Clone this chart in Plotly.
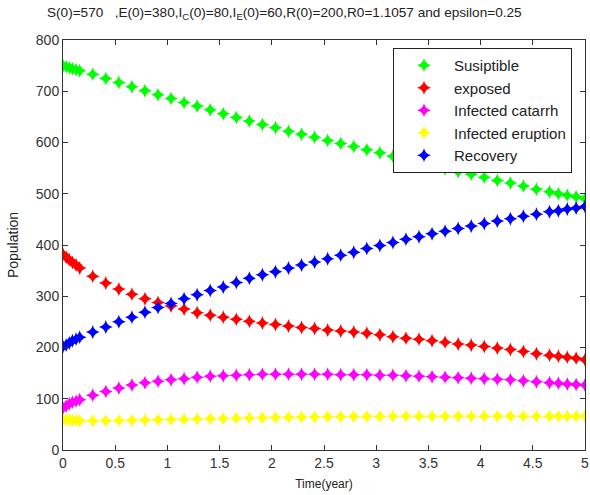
import plotly.graph_objects as go

time = [0, 0.03, 0.06, 0.09, 0.125, 0.16, 0.285, 0.41, 0.535, 0.66, 0.785, 0.91,
        1.035, 1.16, 1.285, 1.41, 1.535, 1.66, 1.785, 1.91, 2.035, 2.16, 2.285,
        2.41, 2.535, 2.66, 2.785, 2.91, 3.035, 3.16, 3.285, 3.41, 3.535, 3.66,
        3.785, 3.91, 4.035, 4.16, 4.285, 4.41, 4.535, 4.66, 4.745, 4.83, 4.915, 5.0]

susceptible = [750, 748, 746, 744, 742, 740, 733, 725, 717, 709, 701, 693,
               686, 678, 671, 664, 656, 649, 642, 635, 629, 622, 616,
               610, 604, 598, 592, 586, 580, 573, 566, 560, 555, 549,
               543, 538, 532, 526, 521, 515, 509, 504, 500, 497, 494, 490]

exposed = [382, 376, 371, 366, 361, 355, 339, 326, 314, 304, 295, 288,
           281, 275, 268, 263, 259, 255, 251, 248, 245, 242, 239,
           237, 234, 232, 230, 228, 225, 221, 218, 216, 213, 210,
           207, 205, 202, 199, 196, 192, 188, 185, 183, 181, 179, 176]

infected_catarrh = [82, 86, 90, 93, 95, 98, 107, 114, 121, 127, 131, 134,
                    137, 139, 142, 144, 145, 146, 147, 148, 148, 148, 148,
                    148, 148, 147, 147, 147, 146, 146, 145, 144, 143, 142,
                    141, 140, 139, 138, 137, 135, 133, 131, 130, 129, 128, 127]

infected_eruption = [60, 59, 58.5, 58, 57.5, 57, 57, 57, 57.5, 58, 58.5, 59,
                     59.5, 60, 60.5, 61, 61.5, 62, 62.5, 63, 63.5, 64, 64.5,
                     64.5, 65, 65, 65.5, 65.5, 65.5, 66, 66, 66, 66, 66,
                     66, 66, 66, 66, 66, 66, 66, 66, 66, 66, 66, 66]

recovery = [202, 205, 209, 213, 216, 220, 230, 240, 250, 259, 269, 278,
            286, 295, 303, 311, 318, 327, 335, 342, 348, 355, 361,
            367, 373, 380, 386, 393, 399, 405, 411, 416, 422, 427,
            432, 437, 442, 447, 451, 456, 460, 465, 467, 470, 472, 475]

series_names = ["Susiptible", "exposed", "Infected catarrh", "Infected eruption", "Recovery"]
series_values = [susceptible, exposed, infected_catarrh, infected_eruption, recovery]
series_colors = ["#00ff00", "#ff0000", "#ff00ff", "#ffff00", "#0000ff"]

x_ticks = [0, 0.5, 1, 1.5, 2, 2.5, 3, 3.5, 4, 4.5, 5]
y_ticks = [0, 100, 200, 300, 400, 500, 600, 700, 800]

fig = go.Figure()
for name, vals, col in zip(series_names, series_values, series_colors):
    fig.add_trace(go.Scatter(
        x=time, y=vals, mode="markers", name=name,
        marker=dict(symbol="star-diamond", size=10, color=col, line=dict(width=0)),
    ))

font = "Liberation Sans, Arial, sans-serif"
axis_common = dict(
    showgrid=False, zeroline=False, showline=True, linecolor="#333333", linewidth=1,
    mirror="ticks", ticks="inside", ticklen=5, tickcolor="#333333",
    tickfont=dict(family=font, size=14, color="#333333"),
    automargin=False,
)

W, H = 590, 495
L, R, T, B = 63, 5, 40, 45
PW, PH = W - L - R, H - T - B

fig.update_layout(
    width=W, height=H,
    margin=dict(l=L, r=R, t=T, b=B),
    paper_bgcolor="white", plot_bgcolor="white",
    showlegend=True,
    legend=dict(
        x=(393 - L) / PW, y=(H - B - 48) / PH, xanchor="left", yanchor="top",
        bordercolor="#222222", borderwidth=1, bgcolor="white",
        font=dict(family=font, size=15, color="#222222"),
        itemwidth=50,
    ),
    xaxis=dict(range=[0, 5], tickvals=x_ticks, ticktext=[str(v) for v in x_ticks],
               title=dict(text="Time(year)", font=dict(family=font, size=12, color="#222222"), standoff=9),
               **axis_common),
    yaxis=dict(range=[0, 800], tickvals=y_ticks,
               title=dict(text="Population", font=dict(family=font, size=14, color="#222222"), standoff=13),
               **axis_common),
    annotations=[dict(
        text="S(0)=570   ,E(0)=380,I<sub>C</sub>(0)=80,I<sub>E</sub>(0)=60,R(0)=200,R0=1.1057 and epsilon=0.25",
        x=(284 - L) / PW, y=(H - B - 14) / PH, xref="paper", yref="paper",
        xanchor="center", yanchor="middle", showarrow=False,
        font=dict(family=font, size=13.6, color="#222222"),
    )],
)

fig.write_html("out.html", config={"displayModeBar": False},
               post_script="document.body.style.margin='0';")
